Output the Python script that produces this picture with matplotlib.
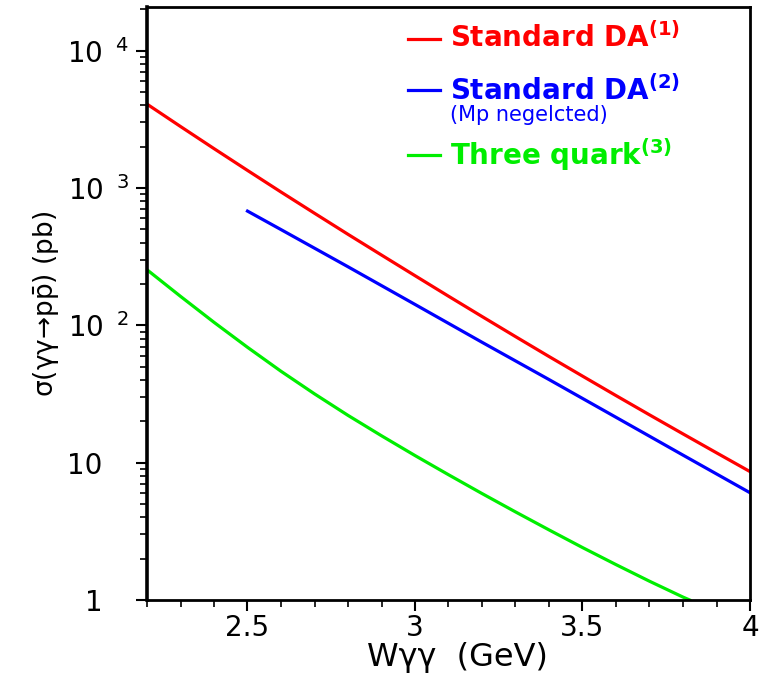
import matplotlib
matplotlib.use("Agg")
import matplotlib.pyplot as plt
import numpy as np
from matplotlib.ticker import NullFormatter, LogLocator, MultipleLocator

plt.rcParams['font.family'] = ['DejaVu Sans']
plt.rcParams['mathtext.fontset'] = 'dejavusans'

# data
x_red = [2.2, 2.3, 2.4, 2.5, 2.6, 2.7, 2.8, 2.9, 3.0, 3.1, 3.2, 3.3, 3.4, 3.5, 3.6, 3.7, 3.8, 3.9, 4.0]
y_red = [4083, 2805, 1936, 1343, 935, 655, 460, 325, 230, 163, 116, 82.8, 59.3, 42.7, 30.8, 22.3, 16.2, 11.8, 8.61]

x_blue = [2.5, 2.6, 2.8, 3.0, 3.2, 3.4, 3.6, 3.8, 4.0]
y_blue = [679, 498, 267, 142, 75.3, 40.3, 21.4, 11.35, 6.04]

x_green = [2.2, 2.3, 2.4, 2.5, 2.6, 2.7, 2.8, 2.9, 3.0, 3.1, 3.2, 3.3, 3.4, 3.5, 3.6, 3.7, 3.8, 3.82]
y_green = [254, 162.6, 105.2, 69.2, 46.3, 31.7, 22.1, 15.7, 11.27, 8.17, 5.96, 4.38, 3.24, 2.41, 1.81, 1.37, 1.05, 1.0]

yticks = [1, 10, 100, 1000, 10000]
ytick_labels = ['1\u2007\u2008', '10\u2007\u2008', r'$10^{\ \ 2}$', r'$10^{\ \ 3}$', r'$10^{\ \ 4}$']
xticks = [2.5, 3, 3.5, 4]
xtick_labels = ['2.5', '3', '3.5', '4']

fig = plt.figure(figsize=(7.62, 6.76), dpi=100)
ax = fig.add_axes([147/762, 76/676, 603/762, 593/676])

lw = 2.3
ax.plot(x_red, y_red, color='#ff0000', lw=lw)
ax.plot(x_blue, y_blue, color='#0000ff', lw=lw)
ax.plot(x_green, y_green, color='#00ee00', lw=lw)

ax.set_yscale('log')
ax.set_xlim(2.2, 4.0)
ax.set_ylim(1, 2.08e4)

ax.set_xticks(xticks)
ax.set_xticklabels(xtick_labels)
ax.xaxis.set_minor_locator(MultipleLocator(0.1))
ax.set_yticks(yticks)
ax.set_yticklabels(ytick_labels)
ax.yaxis.set_minor_locator(LogLocator(base=10, subs=np.arange(2, 10)))
ax.yaxis.set_minor_formatter(NullFormatter())

ax.tick_params(which='major', direction='out', length=8, width=1.5, labelsize=20,
               top=False, right=False)
ax.tick_params(axis='x', which='major', pad=2)
ax.tick_params(axis='y', which='major', pad=5)
ax.tick_params(which='minor', direction='out', length=5, width=1.2, top=False, right=False)
for s in ax.spines.values():
    s.set_linewidth(2)
ax.spines['left'].set_linewidth(2.6)

ax.set_xlabel('Wγγ  (GeV)', fontsize=23)
ax.xaxis.label.set_va('baseline')
ax.xaxis.set_label_coords(0.514, -0.112)
ax.set_ylabel(r'σ(γγ→p$\bar{\mathrm{p}}$) (pb)', fontsize=19)
ax.yaxis.set_label_coords(-0.141, 0.5)

# legend drawn by hand
keys = [('#ff0000', 0.946, 0.9325, r'Standard DA$^{\mathbf{(1)}}$'),
        ('#0000ff', 0.860, 0.843, r'Standard DA$^{\mathbf{(2)}}$'),
        ('#00ee00', 0.750, 0.7335, r'Three quark$^{\mathbf{(3)}}$')]
for c, yl, yt, lab in keys:
    ax.plot([0.433, 0.486], [yl, yl], color=c, lw=lw, transform=ax.transAxes)
    ax.text(0.502, yt, lab, color=c, fontsize=20, fontweight='bold',
            va='baseline', ha='left', transform=ax.transAxes)
ax.text(0.502, 0.808, '(Mp negelcted)', color='#0000ff', fontsize=15,
        va='baseline', ha='left', transform=ax.transAxes)

plt.savefig('out.png', dpi=100)
